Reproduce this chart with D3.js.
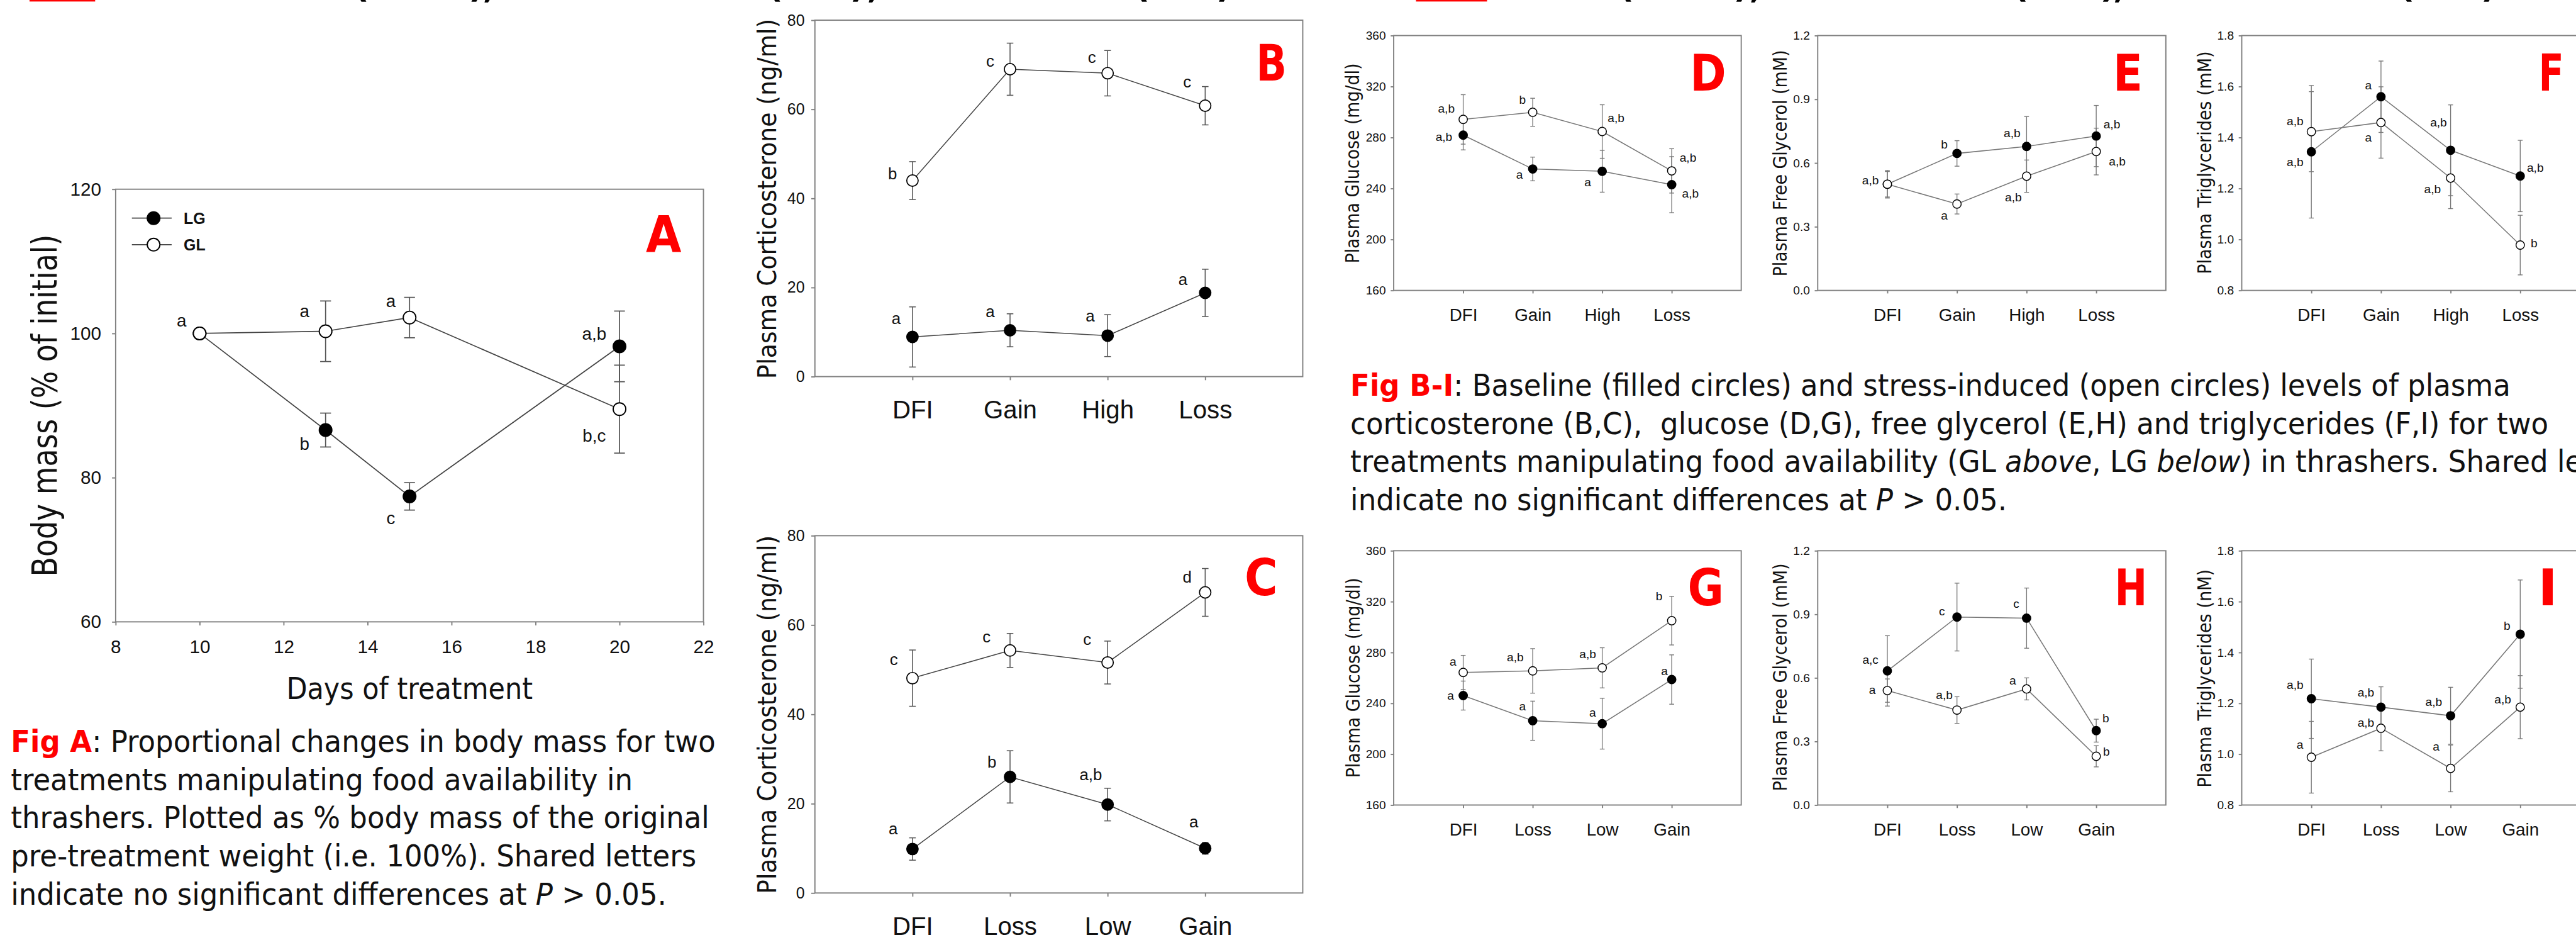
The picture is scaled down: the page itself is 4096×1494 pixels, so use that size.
<!DOCTYPE html>
<html>
<head>
<meta charset="utf-8">
<script src="https://cdn.jsdelivr.net/npm/d3@7"></script>
<style>
  html, body { margin: 0; padding: 0; background: #fff; overflow: hidden; }
  svg { display: block; }
  text { white-space: pre; }
</style>
</head>
<body>
<div id="chart"></div>
<script>
const W = 4277, H = 1560;   // reference size, drawn through the viewBox at 0.957

// ---------- Fig A : body mass ----------
const aDays = [10, 13, 15, 20];
const aXTicks = [8, 10, 12, 14, 16, 18, 20, 22];
const aYTicks = [60, 80, 100, 120];
const aLG = [100, 86.6, 77.4, 98.2];
const aLGerr = [0, 2.35, 1.9, 4.9];
const aLGlet = ['', 'b', 'c', 'a,b'];
const aGL = [100, 100.3, 102.2, 89.5];
const aGLerr = [0, 4.2, 2.8, 6.1];
const aGLlet = ['a', 'a', 'a', 'b,c'];

// ---------- categories ----------
const catsGL = ['DFI', 'Gain', 'High', 'Loss'];   // top row (GL)
const catsLG = ['DFI', 'Loss', 'Low', 'Gain'];    // bottom row (LG)
const catPos = [1, 2, 3, 4];

// ---------- Fig B / C : corticosterone ----------
const corTicks = [0, 20, 40, 60, 80];
const bLG = [8.9, 10.4, 9.2, 18.8];
const bLGerr = [6.75, 3.7, 4.7, 5.3];
const bLGlet = ['a', 'a', 'a', 'a'];
const bGL = [44.0, 69.0, 68.1, 60.8];
const bGLerr = [4.25, 5.85, 5.1, 4.3];
const bGLlet = ['b', 'c', 'c', 'c'];

const cLG = [9.85, 26.0, 19.8, 10.0];
const cLGerr = [2.5, 5.85, 3.65, 1.3];
const cLGlet = ['a', 'b', 'a,b', 'a'];
const cGL = [48.1, 54.3, 51.6, 67.3];
const cGLerr = [6.3, 3.8, 4.8, 5.35];
const cGLlet = ['c', 'c', 'c', 'd'];

// ---------- Fig D / G : glucose ----------
const gluTicks = [160, 200, 240, 280, 320, 360];
const dLG = [281.9, 255.3, 253.5, 243.0];
const dLGerr = [11.6, 9.3, 16.4, 22];
const dLGlet = ['a,b', 'a', 'a', 'a,b'];
const dGL = [294.2, 299.8, 284.7, 253.8];
const dGLerr = [19.4, 11, 21, 17.4];
const dGLlet = ['a,b', 'b', 'a,b', 'a,b'];

const gLG = [246.1, 226.3, 224.0, 258.7];
const gLGerr = [11.4, 15.4, 20, 19.4];
const gLGlet = ['a', 'a', 'a', 'a'];
const gGL = [264.3, 265.5, 267.9, 305.0];
const gGLerr = [13.4, 17.5, 15.8, 19.1];
const gGLlet = ['a', 'a,b', 'a,b', 'b'];

// ---------- Fig E / H : free glycerol ----------
const glyTicks = [0, 0.3, 0.6, 0.9, 1.2];
const eLG = [0.50, 0.645, 0.678, 0.727];
const eLGerr = [0.06, 0.06, 0.141, 0.144];
const eLGlet = ['', 'b', 'a,b', 'a,b'];
const eGL = [0.50, 0.407, 0.538, 0.654];
const eGLerr = [0.065, 0.047, 0.076, 0.11];
const eGLlet = ['a,b', 'a', 'a,b', 'a,b'];

const hLG = [0.633, 0.887, 0.882, 0.351];
const hLGerr = [0.166, 0.16, 0.142, 0.054];
const hLGlet = ['a,c', 'c', 'c', 'b'];
const hGL = [0.540, 0.448, 0.548, 0.230];
const hGLerr = [0.055, 0.063, 0.052, 0.05];
const hGLlet = ['a', 'a,b', 'a', 'b'];

// ---------- Fig F / I : triglycerides ----------
const triTicks = [0.8, 1.0, 1.2, 1.4, 1.6, 1.8];
const fLG = [1.344, 1.560, 1.350, 1.249];
const fLGerr = [0.26, 0.14, 0.178, 0.14];
const fLGlet = ['a,b', 'a', 'a,b', 'a,b'];
const fGL = [1.423, 1.459, 1.241, 0.978];
const fGLerr = [0.157, 0.14, 0.12, 0.117];
const fGLlet = ['a,b', 'a', 'a,b', 'b'];

const iLG = [1.218, 1.185, 1.151, 1.472];
const iLGerr = [0.156, 0.08, 0.112, 0.213];
const iLGlet = ['a,b', 'a,b', 'a,b', 'b'];
const iGL = [0.988, 1.102, 0.944, 1.185];
const iGLerr = [0.141, 0.089, 0.092, 0.124];
const iGLlet = ['a', 'a,b', 'a', 'a,b'];

// ---------- captions ----------
const capA = [
  [['Fig A', 'red'], [': Proportional changes in body mass for two']],
  [['treatments manipulating food availability in']],
  [['thrashers. Plotted as % body mass of the original']],
  [['pre-treatment weight (i.e. 100%). Shared letters']],
  [['indicate no significant differences at '], ['P', 'it'], [' > 0.05.']]
];
const capBI = [
  [['Fig B-I', 'red'], [': Baseline (filled circles) and stress-induced (open circles) levels of plasma']],
  [['corticosterone (B,C),  glucose (D,G), free glycerol (E,H) and triglycerides (F,I) for two']],
  [['treatments manipulating food availability (GL '], ['above', 'it'], [', LG '], ['below', 'it'], [') in thrashers. Shared letters']],
  [['indicate no significant differences at '], ['P', 'it'], [' > 0.05.']]
];
// bottoms of the cut-off heading above the figure
const headBits = ['(', ')', ',', '(', ')', ',', '(', ')', '(', ')', ',', '(', ')', ',', '(', ')'];

// =====================================================================
const SANS = "'DejaVu Sans', Verdana, sans-serif";
const ARIAL = "'Liberation Sans', Arial, sans-serif";

const svg = d3.select('#chart').append('svg')
  .attr('width', 4096).attr('height', 1494)
  .attr('viewBox', `0 0 ${W} ${H}`);
svg.append('rect').attr('width', W).attr('height', H).attr('fill', '#fff');

function fitScale(sel, target) {
  const w = sel.node().getComputedTextLength();
  return w > 0 ? target / w : 1;
}

const styleBig = { tick: 6, xPad: 24, yPad: 18, xFont: 31, yFont: 31, letFont: 29, r: 10.5, cap: 9,
  line: '#444', lineW: 1.8, err: '#555', errW: 1.8, mk: 2 };
const styleMid = { tick: 6, xPad: 34, yPad: 11, xFont: 42, yFont: 26, letFont: 27, r: 9.5, cap: 5.5,
  line: '#444', lineW: 1.6, err: '#555', errW: 1.6, mk: 1.8 };
const styleSmall = { tick: 5, xPad: 25, yPad: 8, xFont: 29, yFont: 20, letFont: 20, r: 7, cap: 4,
  line: '#777', lineW: 1.6, err: '#777', errW: 1.4, mk: 1.5 };

function drawPanel(p) {
  const [x0, x1, y0, y1] = p.box;
  const st = p.style;
  const g = svg.append('g');
  const x = d3.scaleLinear().domain(p.xDomain).range([x0, x1]);
  const y = d3.scaleLinear().domain(p.yDomain).range([y1, y0]);

  const xa = g.append('g').attr('transform', `translate(0,${y1})`)
    .call(d3.axisBottom(x).tickValues(p.xTicks).tickFormat(p.xFormat)
      .tickSize(st.tick).tickPadding(st.xPad));
  const ya = g.append('g').attr('transform', `translate(${x0},0)`)
    .call(d3.axisLeft(y).tickValues(p.yTicks).tickFormat(p.yFormat)
      .tickSize(st.tick).tickPadding(st.yPad));
  [xa, ya].forEach(a => {
    a.select('.domain').remove();
    a.selectAll('line').attr('stroke', '#808080').attr('stroke-width', 2);
    a.selectAll('text').attr('font-family', ARIAL).attr('fill', '#111');
  });
  xa.selectAll('text').attr('font-size', st.xFont);
  ya.selectAll('text').attr('font-size', st.yFont);

  g.append('rect')
    .attr('x', x0).attr('y', y0).attr('width', x1 - x0).attr('height', y1 - y0)
    .attr('fill', 'none').attr('stroke', '#808080').attr('stroke-width', 2);

  const series = p.series.map(s => ({
    ...s,
    pts: p.xs.map((xv, i) => ({ x: xv, v: s.vals[i], e: s.errs[i], t: s.lets[i] }))
  }));

  const line = d3.line().x(d => x(d.x)).y(d => y(d.v));
  series.forEach(s => {
    g.append('path').datum(s.pts).attr('d', line)
      .attr('fill', 'none').attr('stroke', st.line).attr('stroke-width', st.lineW);
  });

  series.forEach(s => {
    const eb = g.append('g').attr('stroke', st.err).attr('stroke-width', st.errW);
    s.pts.filter(d => d.e > 0).forEach(d => {
      const cx = x(d.x), ya1 = y(d.v + d.e), ya2 = y(d.v - d.e);
      eb.append('line').attr('x1', cx).attr('x2', cx).attr('y1', ya1).attr('y2', ya2);
      eb.append('line').attr('x1', cx - st.cap).attr('x2', cx + st.cap).attr('y1', ya1).attr('y2', ya1);
      eb.append('line').attr('x1', cx - st.cap).attr('x2', cx + st.cap).attr('y1', ya2).attr('y2', ya2);
    });
  });

  series.forEach(s => {
    g.append('g').selectAll('circle').data(s.pts).join('circle')
      .attr('cx', d => x(d.x)).attr('cy', d => y(d.v)).attr('r', st.r)
      .attr('fill', s.filled ? '#000' : '#fff')
      .attr('stroke', '#000').attr('stroke-width', st.mk);
  });

  series.forEach((s, si) => {
    const offs = p.offs[si];
    g.append('g').selectAll('text').data(s.pts).join('text')
      .attr('x', (d, i) => x(d.x) + offs[i][0])
      .attr('y', (d, i) => y(d.v) + offs[i][1])
      .attr('dy', '0.32em')
      .attr('text-anchor', 'middle')
      .attr('font-family', ARIAL).attr('font-size', st.letFont).attr('fill', '#111')
      .text(d => d.t);
  });

  // y axis title, rotated and fitted to its measured length
  const tg = g.append('g').attr('transform', `translate(${p.yTitle.x},${p.yTitle.y}) rotate(-90)`);
  const tt = tg.append('text').attr('text-anchor', 'middle')
    .attr('font-family', SANS).attr('font-size', p.yTitle.size).attr('fill', '#111')
    .text(p.yTitle.text);
  tt.attr('transform', `scale(${fitScale(tt, p.yTitle.len)},1)`);

  // red panel letter
  const lg = g.append('g').attr('transform', `translate(${p.mark.x},${p.mark.y})`);
  const lt = lg.append('text').attr('text-anchor', 'middle')
    .attr('font-family', SANS).attr('font-weight', 'bold').attr('font-size', 84)
    .attr('fill', '#ff0000').text(p.mark.ch);
  lt.attr('transform', `scale(${fitScale(lt, p.mark.w)},1)`);

  return { x, y, g };
}

const fmtCat = cats => v => cats[v - 1];
const catDomain = [0, 5];

// ---------- panel A ----------
const pA = drawPanel({
  box: [192, 1168, 314, 1032], style: styleBig,
  xDomain: [8, 22], yDomain: [60, 120], xTicks: aXTicks, yTicks: aYTicks,
  xFormat: d3.format('d'), yFormat: d3.format('d'), xs: aDays,
  series: [
    { vals: aLG, errs: aLGerr, lets: aLGlet, filled: true },
    { vals: aGL, errs: aGLerr, lets: aGLlet, filled: false }
  ],
  offs: [
    [[0, 0], [-35, 24], [-31, 37], [-42, -20]],
    [[-30, -21], [-35, -33], [-31, -27], [-42, 45]]
  ],
  yTitle: { text: 'Body mass (% of initial)', x: 94, y: 673, size: 58, len: 568 },
  mark: { ch: 'A', x: 1102, y: 419, w: 59 }
});
// x title and legend of A
const axt = svg.append('text').attr('font-family', SANS).attr('font-size', 51).attr('fill', '#111')
  .attr('text-anchor', 'middle').text('Days of treatment');
axt.attr('transform', `translate(680,1160) scale(${fitScale(axt, 409)},1)`);

const legA = svg.append('g');
[{ t: 'LG', f: true, yy: 362 }, { t: 'GL', f: false, yy: 406 }].forEach(d => {
  legA.append('line').attr('x1', 219).attr('x2', 285).attr('y1', d.yy).attr('y2', d.yy)
    .attr('stroke', '#444').attr('stroke-width', 1.8);
  legA.append('circle').attr('cx', 255).attr('cy', d.yy).attr('r', 10.5)
    .attr('fill', d.f ? '#000' : '#fff').attr('stroke', '#000').attr('stroke-width', 2);
  legA.append('text').attr('x', 305).attr('y', d.yy).attr('dy', '0.36em')
    .attr('font-family', ARIAL).attr('font-weight', 'bold').attr('font-size', 26)
    .attr('fill', '#111').text(d.t);
});

// ---------- panels B, C ----------
drawPanel({
  box: [1353, 2163, 33.5, 625], style: styleMid,
  xDomain: catDomain, yDomain: [0, 80], xTicks: catPos, yTicks: corTicks,
  xFormat: fmtCat(catsGL), yFormat: d3.format('d'), xs: catPos,
  series: [
    { vals: bLG, errs: bLGerr, lets: bLGlet, filled: true },
    { vals: bGL, errs: bGLerr, lets: bGLlet, filled: false }
  ],
  offs: [
    [[-27, -30], [-33, -30], [-29, -32], [-37, -22]],
    [[-33, -11], [-33, -13], [-26, -26], [-30, -39]]
  ],
  yTitle: { text: 'Plasma Corticosterone (ng/ml)', x: 1289, y: 330, size: 42, len: 598 },
  mark: { ch: 'B', x: 2111, y: 134, w: 51 }
});
drawPanel({
  box: [1353, 2163, 889, 1482], style: styleMid,
  xDomain: catDomain, yDomain: [0, 80], xTicks: catPos, yTicks: corTicks,
  xFormat: fmtCat(catsLG), yFormat: d3.format('d'), xs: catPos,
  series: [
    { vals: cLG, errs: cLGerr, lets: cLGlet, filled: true },
    { vals: cGL, errs: cGLerr, lets: cGLlet, filled: false }
  ],
  offs: [
    [[-32, -33], [-30, -24], [-28, -49], [-19, -43]],
    [[-31, -30], [-39, -22], [-34, -38], [-30, -25]]
  ],
  yTitle: { text: 'Plasma Corticosterone (ng/ml)', x: 1289, y: 1186, size: 42, len: 595 },
  mark: { ch: 'C', x: 2094, y: 988, w: 55 }
});

// ---------- panels D-I ----------
const rowTop = [59, 482], rowBot = [914, 1336];
const colD = [2314, 2891], colE = [3018, 3596], colF = [3722, 4300];
const small = (col, row, yDom, yTicks, yFmt, cats, lg, gl, offs, yTitle, mark) => drawPanel({
  box: [col[0], col[1], row[0], row[1]], style: styleSmall,
  xDomain: catDomain, yDomain: yDom, xTicks: catPos, yTicks: yTicks,
  xFormat: fmtCat(cats), yFormat: yFmt, xs: catPos,
  series: [Object.assign(lg, { filled: true }), Object.assign(gl, { filled: false })],
  offs, yTitle, mark
});

small(colD, rowTop, [160, 360], gluTicks, d3.format('d'), catsGL,
  { vals: dLG, errs: dLGerr, lets: dLGlet }, { vals: dGL, errs: dGLerr, lets: dGLlet },
  [[[-32, 3], [-22, 10], [-24, 18], [31, 15]], [[-28, -18], [-17, -20], [23, -22], [27, -22]]],
  { text: 'Plasma Glucose (mg/dl)', x: 2257, y: 271, size: 32, len: 332 },
  { ch: 'D', x: 2836, y: 150, w: 60 });
small(colE, rowTop, [0, 1.2], glyTicks, d3.format('.1f'), catsGL,
  { vals: eLG, errs: eLGerr, lets: eLGlet }, { vals: eGL, errs: eGLerr, lets: eGLlet },
  [[[0, 0], [-21, -15], [-24, -22], [26, -19]], [[-28, -6], [-21, 19], [-22, 35], [35, 17]]],
  { text: 'Plasma Free Glycerol (mM)', x: 2967, y: 271, size: 32, len: 376 },
  { ch: 'E', x: 3533, y: 150, w: 49 });
small(colF, rowTop, [0.8, 1.8], triTicks, d3.format('.1f'), catsGL,
  { vals: fLG, errs: fLGerr, lets: fLGlet }, { vals: fGL, errs: fGLerr, lets: fGLlet },
  [[[-27, 17], [-21, -19], [-20, -46], [25, -13]], [[-27, -17], [-21, 25], [-30, 19], [23, -3]]],
  { text: 'Plasma Triglycerides (mM)', x: 3671, y: 270, size: 32, len: 370 },
  { ch: 'F', x: 4236, y: 150, w: 42 });
small(colD, rowBot, [160, 360], gluTicks, d3.format('d'), catsLG,
  { vals: gLG, errs: gLGerr, lets: gLGlet }, { vals: gGL, errs: gGLerr, lets: gGLlet },
  [[[-21, 0], [-17, -24], [-16, -18], [-12, -14]], [[-17, -18], [-29, -22], [-24, -23], [-21, -40]]],
  { text: 'Plasma Glucose (mg/dl)', x: 2258, y: 1125, size: 32, len: 332 },
  { ch: 'G', x: 2832, y: 1005, w: 60 });
small(colE, rowBot, [0, 1.2], glyTicks, d3.format('.1f'), catsLG,
  { vals: hLG, errs: hLGerr, lets: hLGlet }, { vals: hGL, errs: hGLerr, lets: hGLlet },
  [[[-28, -18], [-25, -9], [-17, -24], [16, -20]], [[-25, -1], [-21, -25], [-23, -14], [17, -7]]],
  { text: 'Plasma Free Glycerol (mM)', x: 2967, y: 1124, size: 32, len: 378 },
  { ch: 'H', x: 3538, y: 1005, w: 54 });
small(colF, rowBot, [0.8, 1.8], triTicks, d3.format('.1f'), catsLG,
  { vals: iLG, errs: iLGerr, lets: iLGlet }, { vals: iGL, errs: iGLerr, lets: iGLlet },
  [[[-27, -23], [-25, -24], [-28, -23], [-22, -14]], [[-19, -20], [-25, -9], [-24, -36], [-29, -13]]],
  { text: 'Plasma Triglycerides (nM)', x: 3671, y: 1126, size: 32, len: 362 },
  { ch: 'I', x: 4230, y: 1005, w: 33 });

// ---------- captions ----------
function caption(lines, x0, base0, step, firstLen) {
  let sx = 1;
  lines.forEach((parts, li) => {
    const t = svg.append('text').attr('font-family', SANS).attr('font-size', 50).attr('fill', '#111')
      .attr('xml:space', 'preserve');
    parts.forEach(([s, kind]) => {
      const ts = t.append('tspan').text(s);
      if (kind === 'red') ts.attr('fill', '#ff0000').attr('font-weight', 'bold');
      if (kind === 'it') ts.attr('font-style', 'italic');
    });
    if (li === 0) sx = fitScale(t, firstLen);
    t.attr('transform', `translate(${x0},${base0 + li * step}) scale(${sx},1)`);
  });
}
caption(capA, 18, 1248, 63.3, 1170);
caption(capBI, 2242, 657, 63.3, 1926);

// ---------- cut-off heading at the very top ----------
const headX = [600, 791, 812, 1287, 1424, 1450, 1896, 2032, 2700, 2891, 2915, 3355, 3500, 3519, 3996, 4132];
svg.append('g').selectAll('text').data(headBits).join('text')
  .attr('x', (d, i) => headX[i]).attr('y', -4).attr('text-anchor', 'middle')
  .attr('font-family', SANS).attr('font-weight', 'bold').attr('font-size', 56).attr('fill', '#000')
  .text(d => d);
svg.append('rect').attr('x', 49).attr('y', 0).attr('width', 109).attr('height', 2.5).attr('fill', '#ff0000');
svg.append('rect').attr('x', 2351).attr('y', 0).attr('width', 118).attr('height', 2.5).attr('fill', '#ff0000');
</script>
</body>
</html>
